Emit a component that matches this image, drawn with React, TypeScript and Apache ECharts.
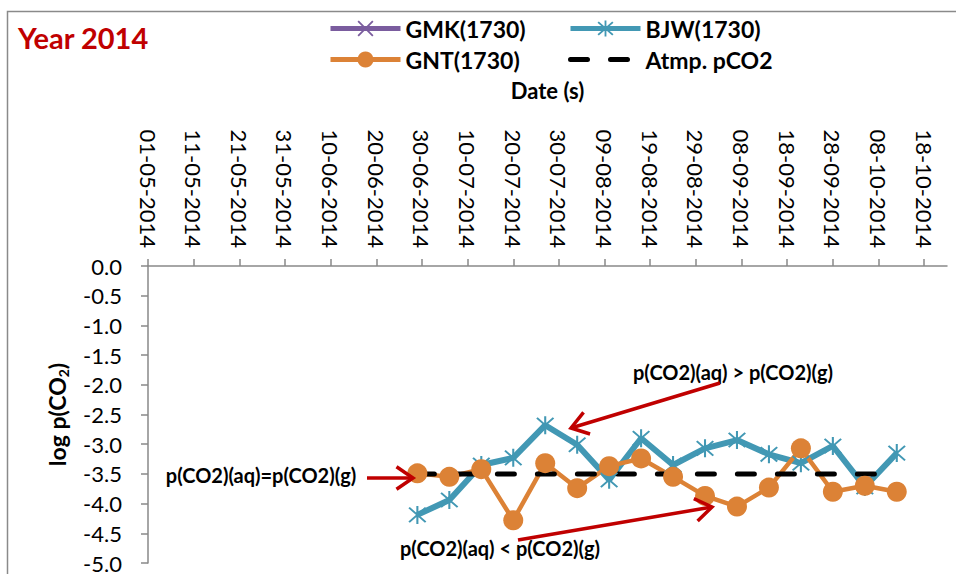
import React, { useEffect, useRef } from 'react';
import * as echarts from 'echarts';

// ---- Data ----
const sampleDates = [
  '29-06-2014', '06-07-2014', '13-07-2014', '20-07-2014', '27-07-2014', '03-08-2014',
  '10-08-2014', '17-08-2014', '24-08-2014', '31-08-2014', '07-09-2014', '14-09-2014',
  '21-09-2014', '28-09-2014', '05-10-2014', '12-10-2014',
];
const gmkValues: number[] = [];
const bjwValues = [-4.19, -3.94, -3.35, -3.23, -2.68, -3.01, -3.6, -2.9, -3.35, -3.07, -2.93, -3.17, -3.32, -3.03, -3.72, -3.15];
const gntValues = [-3.49, -3.55, -3.42, -4.28, -3.32, -3.74, -3.37, -3.24, -3.55, -3.87, -4.05, -3.73, -3.07, -3.8, -3.7, -3.8];
const atmDates = ['29-06-2014', '12-10-2014'];
const atmValues = [-3.5, -3.5];
const xTickLabels = [
  '01-05-2014', '11-05-2014', '21-05-2014', '31-05-2014', '10-06-2014', '20-06-2014',
  '30-06-2014', '10-07-2014', '20-07-2014', '30-07-2014', '09-08-2014', '19-08-2014',
  '29-08-2014', '08-09-2014', '18-09-2014', '28-09-2014', '08-10-2014', '18-10-2014',
];
const xAxisStart = '01-05-2014';
const xAxisEnd = '23-10-2014';
const yMin = -5;
const yMax = 0;
const yStep = 0.5;

const DAY = 86400000;
const toUTC = (s: string) => {
  const [d, m, y] = s.split('-').map(Number);
  return Date.UTC(y, m - 1, d);
};
const base = toUTC(xAxisStart);
const toDay = (s: string) => Math.round((toUTC(s) - base) / DAY);
const fmtDay = (v: number) => {
  const dt = new Date(base + v * DAY);
  const dd = String(dt.getUTCDate()).padStart(2, '0');
  const mm = String(dt.getUTCMonth() + 1).padStart(2, '0');
  return `${dd}-${mm}-${dt.getUTCFullYear()}`;
};

const FONT = 'Lato';
const RED = '#C00000';
const AXIS = '#898989';
const PURPLE = '#7A5C9E';
const BLUE = '#4298B4';
const ORANGE = '#DC8236';

const starPath =
  'path://M9,0L11,0L11,20L9,20Z M2.7,1.3L18.7,17.3L17.3,18.7L1.3,2.7Z M17.3,1.3L18.7,2.7L2.7,18.7L1.3,17.3Z';
const crossPath =
  'path://M2.7,1.3L18.7,17.3L17.3,18.7L1.3,2.7Z M17.3,1.3L18.7,2.7L2.7,18.7L1.3,17.3Z';

function arrow(x1: number, y1: number, x2: number, y2: number) {
  const a = Math.atan2(y2 - y1, x2 - x1);
  const len = 20;
  const ang = 0.6;
  return [
    {
      type: 'line',
      shape: { x1, y1, x2, y2 },
      style: { stroke: RED, lineWidth: 3.5 },
      z: 100,
    },
    {
      type: 'polyline',
      shape: {
        points: [
          [x2 - len * Math.cos(a - ang), y2 - len * Math.sin(a - ang)],
          [x2, y2],
          [x2 - len * Math.cos(a + ang), y2 - len * Math.sin(a + ang)],
        ],
      },
      style: { stroke: RED, lineWidth: 3.5, fill: null },
      z: 100,
    },
  ];
}

function annText(x: number, y: number, text: string, color = '#000', size = 20) {
  return {
    type: 'text',
    x,
    y,
    z: 100,
    style: {
      text,
      fill: color,
      font: `bold ${size}px ${FONT}`,
      textAlign: 'center',
      textVerticalAlign: 'middle',
    },
  };
}

const legendText = { fontFamily: FONT, fontWeight: 'bold', fontSize: 23, color: '#000' };

export default function App() {
  const ref = useRef<HTMLDivElement>(null);
  useEffect(() => {
    if (!ref.current) return;
    const chart = echarts.init(ref.current, undefined, { renderer: 'svg' });
    const days = sampleDates.map(toDay);
    const tickDays = xTickLabels.map(toDay);
    const option: any = {
      animation: false,
      backgroundColor: '#fff',
      grid: { left: 148, top: 266, right: 9, bottom: 11, containLabel: false },
      legend: [
        {
          left: 328,
          top: 17,
          padding: 0,
          orient: 'vertical',
          itemWidth: 70,
          itemHeight: 20,
          itemGap: 8,
          data: [
            { name: 'GMK(1730)', lineStyle: { width: 5 } },
            { name: 'GNT(1730)', lineStyle: { width: 5 } },
          ],
          textStyle: legendText,
        },
        {
          left: 568,
          top: 17,
          padding: 0,
          orient: 'vertical',
          itemWidth: 70,
          itemHeight: 20,
          itemGap: 8,
          data: [
            { name: 'BJW(1730)', lineStyle: { width: 5 } },
            {
              name: 'Atmp. pCO2',
              itemStyle: { opacity: 0 },
              lineStyle: { width: 5, type: [17, 23], cap: 'round' },
            },
          ],
          textStyle: legendText,
        },
      ],
      xAxis: {
        type: 'value',
        position: 'top',
        min: 0,
        max: toDay(xAxisEnd),
        interval: 10,
        name: 'Date (s)',
        nameLocation: 'middle',
        nameGap: 165,
        nameTextStyle: { fontFamily: FONT, fontWeight: 'bold', fontSize: 22, color: '#000' },
        axisLine: { show: true, onZero: false, lineStyle: { color: AXIS, width: 1.5 } },
        axisTick: { show: true, length: 7, customValues: tickDays, lineStyle: { color: AXIS, width: 1.5 } },
        axisLabel: {
          rotate: 90,
          margin: 18,
          customValues: tickDays,
          formatter: (v: number) => fmtDay(v),
          fontFamily: FONT,
          fontSize: 22,
          color: '#000',
        },
        splitLine: { show: false },
      },
      yAxis: {
        type: 'value',
        min: yMin,
        max: yMax,
        interval: yStep,
        name: 'log p(CO{sub|2})',
        nameLocation: 'middle',
        nameGap: 78,
        nameTextStyle: {
          fontFamily: FONT,
          fontWeight: 'bold',
          fontSize: 23,
          color: '#000',
          lineHeight: 27,
          rich: {
            sub: { fontFamily: FONT, fontWeight: 'bold', fontSize: 14, lineHeight: 14, verticalAlign: 'bottom', color: '#000' },
          },
        },
        axisLine: { show: true, onZero: false, lineStyle: { color: AXIS, width: 1.5 } },
        axisTick: { show: true, length: 7, lineStyle: { color: AXIS, width: 1.5 } },
        axisLabel: {
          margin: 26,
          formatter: (v: number) => v.toFixed(1),
          fontFamily: FONT,
          fontSize: 22,
          color: '#000',
        },
        splitLine: { show: false },
      },
      series: [
        {
          name: 'GMK(1730)',
          type: 'line',
          data: gmkValues.map((v, i) => [days[i], v]),
          symbol: crossPath,
          symbolSize: 18,
          itemStyle: { color: PURPLE },
          lineStyle: { color: PURPLE, width: 5 },
        },
        {
          name: 'BJW(1730)',
          type: 'line',
          data: bjwValues.map((v, i) => [days[i], v]),
          symbol: starPath,
          symbolSize: 18,
          itemStyle: { color: BLUE },
          lineStyle: { color: BLUE, width: 6 },
        },
        {
          name: 'GNT(1730)',
          type: 'line',
          data: gntValues.map((v, i) => [days[i], v]),
          symbol: 'circle',
          symbolSize: 20,
          itemStyle: { color: ORANGE },
          lineStyle: { color: ORANGE, width: 4.5 },
        },
        {
          name: 'Atmp. pCO2',
          type: 'line',
          data: atmValues.map((v, i) => [toDay(atmDates[i]), v]),
          symbol: 'none',
          itemStyle: { color: '#000' },
          lineStyle: { color: '#000', width: 5, type: [17, 23], cap: 'round' },
        },
      ],
      graphic: [
        {
          type: 'rect',
          shape: { x: 7.5, y: 11.5, width: 2000, height: 2000 },
          style: { stroke: '#8a8a8a', lineWidth: 1.5, fill: null },
          z: -1,
        },
        {
          type: 'text',
          x: 18,
          y: 37,
          style: {
            text: 'Year 2014',
            fill: RED,
            font: `bold 29px ${FONT}`,
            textAlign: 'left',
            textVerticalAlign: 'middle',
          },
        },
        annText(733, 372, 'p(CO2)(aq) > p(CO2)(g)'),
        annText(261, 475, 'p(CO2)(aq)=p(CO2)(g)'),
        annText(500, 548, 'p(CO2)(aq) < p(CO2)(g)'),
        ...arrow(720, 383, 571, 428),
        ...arrow(367, 478, 413, 478),
        ...arrow(518, 540, 712, 507),
      ],
    };
    chart.setOption(option);
    return () => chart.dispose();
  }, []);
  return (
    <div
      ref={ref}
      style={{ position: 'absolute', left: 0, top: 0, width: 956, height: 574, background: '#fff' }}
    />
  );
}
